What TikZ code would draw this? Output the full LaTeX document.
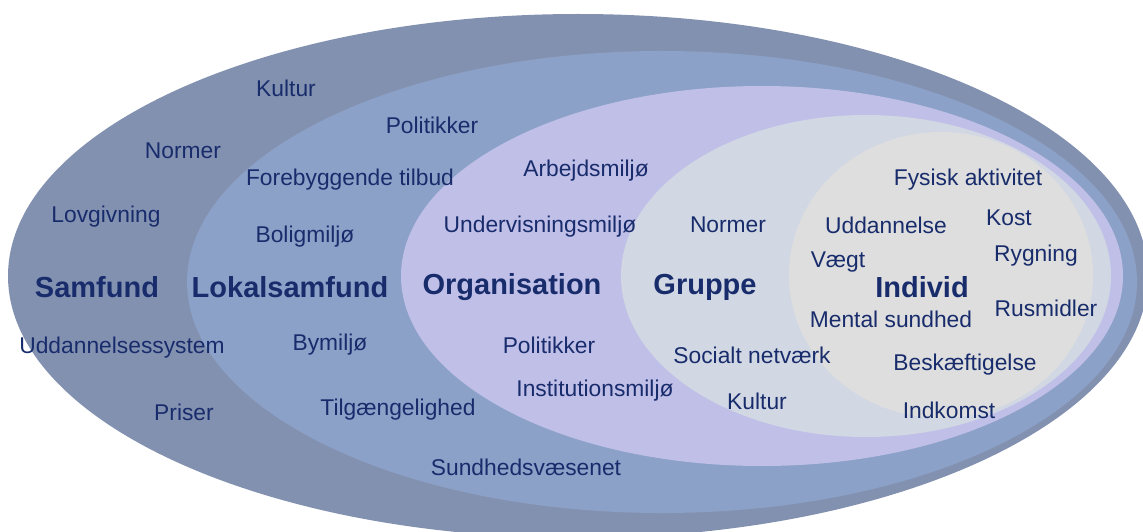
\documentclass[tikz,border=0pt]{standalone}
\usepackage{fontspec}
\setmainfont{Liberation Sans}
\definecolor{cSam}{RGB}{131,145,177}
\definecolor{cLok}{RGB}{140,161,200}
\definecolor{cOrg}{RGB}{192,191,232}
\definecolor{cGru}{RGB}{209,215,227}
\definecolor{cInd}{RGB}{222,222,222}
\definecolor{cTxt}{RGB}{24,44,108}
\begin{document}
\begin{tikzpicture}[x=1pt,y=-1pt,
  lbl/.style={text=cTxt,font=\fontsize{22.8}{26}\selectfont,inner sep=0pt},
  head/.style={text=cTxt,font=\fontsize{29}{33}\selectfont\bfseries,inner sep=0pt}]
\useasboundingbox (0,0) rectangle (1143,532);
\clip (0,0) rectangle (1143,532);
% nested ellipses
\fill[cSam] (578,276) ellipse [x radius=570pt, y radius=262pt];
\fill[cLok] (662,282) ellipse [x radius=475pt, y radius=231pt];
\fill[cOrg] (762,276) ellipse [x radius=361pt, y radius=190pt];
\fill[cGru] (866,276) ellipse [x radius=245pt, y radius=161pt];
\fill[cInd] (941,275) ellipse [x radius=152pt, y radius=143pt];
% headings
\node[head] (samfund) at (97,287) {Samfund};
\node[head] (lokal) at (290,287) {Lokalsamfund};
\node[head] (org) at (512,287) {Organisation};
\node[head] (gruppe) at (705,287) {Gruppe};
\node[head] (individ) at (922,287) {Individ};
% Samfund
\node[lbl] (s1) at (286,88) {Kultur};
\node[lbl] (s2) at (183,151) {Normer};
\node[lbl] (s3) at (106,217) {Lovgivning};
\node[lbl] (s4) at (122,348) {Uddannelsessystem};
\node[lbl] (s5) at (184,412) {Priser};
% Lokalsamfund
\node[lbl] (l1) at (432,125) {Politikker};
\node[lbl] (l2) at (350,180) {Forebyggende tilbud};
\node[lbl] (l3) at (305,237) {Boligmiljø};
\node[lbl] (l4) at (330,345) {Bymiljø};
\node[lbl] (l5) at (398,410) {Tilgængelighed};
\node[lbl] (l6) at (526,467) {Sundhedsvæsenet};
% Organisation
\node[lbl] (o1) at (586,171) {Arbejdsmiljø};
\node[lbl] (o2) at (540,227) {Undervisningsmiljø};
\node[lbl] (o3) at (549,345) {Politikker};
\node[lbl] (o4) at (595,391) {Institutionsmiljø};
% Gruppe
\node[lbl] (g1) at (728,225) {Normer};
\node[lbl] (g2) at (752,355) {Socialt netværk};
\node[lbl] (g3) at (757,401) {Kultur};
% Individ
\node[lbl] (i1) at (968,180) {Fysisk aktivitet};
\node[lbl] (i2) at (886,225) {Uddannelse};
\node[lbl] (i3) at (1009,218) {Kost};
\node[lbl] (i4) at (838,262) {Vægt};
\node[lbl] (i5) at (1036,256) {Rygning};
\node[lbl] (i6) at (891,319) {Mental sundhed};
\node[lbl] (i7) at (1046,308) {Rusmidler};
\node[lbl] (i8) at (965,365) {Beskæftigelse};
\node[lbl] (i9) at (949,410) {Indkomst};
\end{tikzpicture}
\end{document}
